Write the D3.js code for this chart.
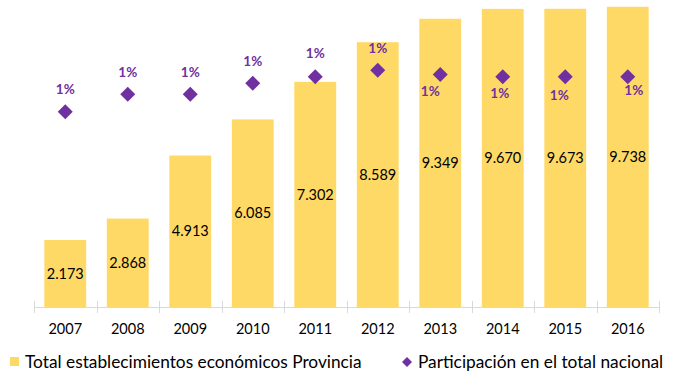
<!DOCTYPE html>
<html><head><meta charset="utf-8">
<script src="https://cdn.jsdelivr.net/npm/d3@7"></script>
<style>body{margin:0;background:#fff}svg{display:block;font-family:Lato,"Open Sans",sans-serif}</style>
</head><body>
<svg id="c" width="674" height="376"></svg>
<script>
const years = ["2007","2008","2009","2010","2011","2012","2013","2014","2015","2016"];
const establecimientos = [2173, 2868, 4913, 6085, 7302, 8589, 9349, 9670, 9673, 9738];
const participacion = [0.0089, 0.0097, 0.0097, 0.0102, 0.0105, 0.0108, 0.0106, 0.0105, 0.0105, 0.0105];
const seriesNames = ["Total establecimientos económicos Provincia", "Participación en el total nacional"];
// layout: manual label offsets for percentage labels (dx, dy from marker)
const pctLabelOffsets = [[0,-23],[0,-22],[0,-22],[0,-22],[0,-23],[0,-22],[-10,17],[-3,17],[-6,19],[6,14]];

const svg = d3.select("#c");
const x = d3.scaleBand().domain(years).range([34, 659]).paddingInner(0.33).paddingOuter(0.165);
const y = d3.scaleLinear().domain([0, 10000]).range([307, -1.3]);
const y2 = d3.scaleLinear().domain([0, 0.014]).range([307, 0]);
const fmt = v => d3.format(",")(v).replace(/,/g, ".");

// bars
svg.append("g").selectAll("rect").data(years).join("rect")
  .attr("x", d => x(d)).attr("width", x.bandwidth())
  .attr("y", (d,i) => y(establecimientos[i]))
  .attr("height", (d,i) => y(0) - y(establecimientos[i]))
  .attr("fill", "#FFD966");

// bar labels
svg.append("g").selectAll("text").data(years).join("text")
  .attr("x", d => x(d) + x.bandwidth()/2)
  .attr("y", (d,i) => (y(establecimientos[i]) + y(0))/2)
  .attr("dy", "0.35em").attr("text-anchor", "middle")
  .attr("font-size", 14.5).attr("fill", "#000")
  .text((d,i) => fmt(establecimientos[i]));

// axis
const axisG = svg.append("g");
axisG.append("line").attr("x1", 34).attr("x2", 659).attr("y1", 307.5).attr("y2", 307.5)
  .attr("stroke", "#D9D9D9").attr("stroke-width", 1);
const tickPos = d3.range(years.length + 1).map(i => 34 + (659-34)/years.length * i);
axisG.selectAll("line.t").data(tickPos).join("line").attr("class","t")
  .attr("x1", d => Math.round(d)+0.5).attr("x2", d => Math.round(d)+0.5)
  .attr("y1", 301).attr("y2", 313).attr("stroke", "#D9D9D9");
axisG.selectAll("text").data(years).join("text")
  .attr("x", d => x(d) + x.bandwidth()/2).attr("y", 329).attr("dy", "0.35em")
  .attr("text-anchor", "middle").attr("font-size", 14.5).attr("fill", "#000")
  .text(d => d);

// diamonds
const cx = d => x(d) + x.bandwidth()/2;
svg.append("g").selectAll("path").data(years).join("path")
  .attr("d", "M0,-7.5L7.5,0L0,7.5L-7.5,0Z")
  .attr("transform", (d,i) => `translate(${cx(d)},${y2(participacion[i])})`)
  .attr("fill", "#7030A0");

svg.append("g").selectAll("text").data(years).join("text")
  .attr("x", (d,i) => cx(d) + pctLabelOffsets[i][0])
  .attr("y", (d,i) => y2(participacion[i]) + pctLabelOffsets[i][1])
  .attr("dy", "0.35em").attr("text-anchor", "middle")
  .attr("font-size", 13.5).attr("font-weight", "bold").attr("fill", "#7030A0")
  .text((d,i) => d3.format(".0%")(participacion[i]));

// legend
const lg = svg.append("g");
lg.append("rect").attr("x", 10).attr("y", 357).attr("width", 9).attr("height", 9).attr("fill", "#FFD966");
lg.append("text").attr("x", 25).attr("y", 362).attr("dy", "0.35em").attr("font-size", 17.3).attr("fill", "#000").text(seriesNames[0]);
lg.append("path").attr("d", "M0,-5L5,0L0,5L-5,0Z").attr("transform", "translate(407,362)").attr("fill", "#7030A0");
lg.append("text").attr("x", 418).attr("y", 362).attr("dy", "0.35em").attr("font-size", 17.3).attr("fill", "#000").text(seriesNames[1]);
</script>
</body></html>
